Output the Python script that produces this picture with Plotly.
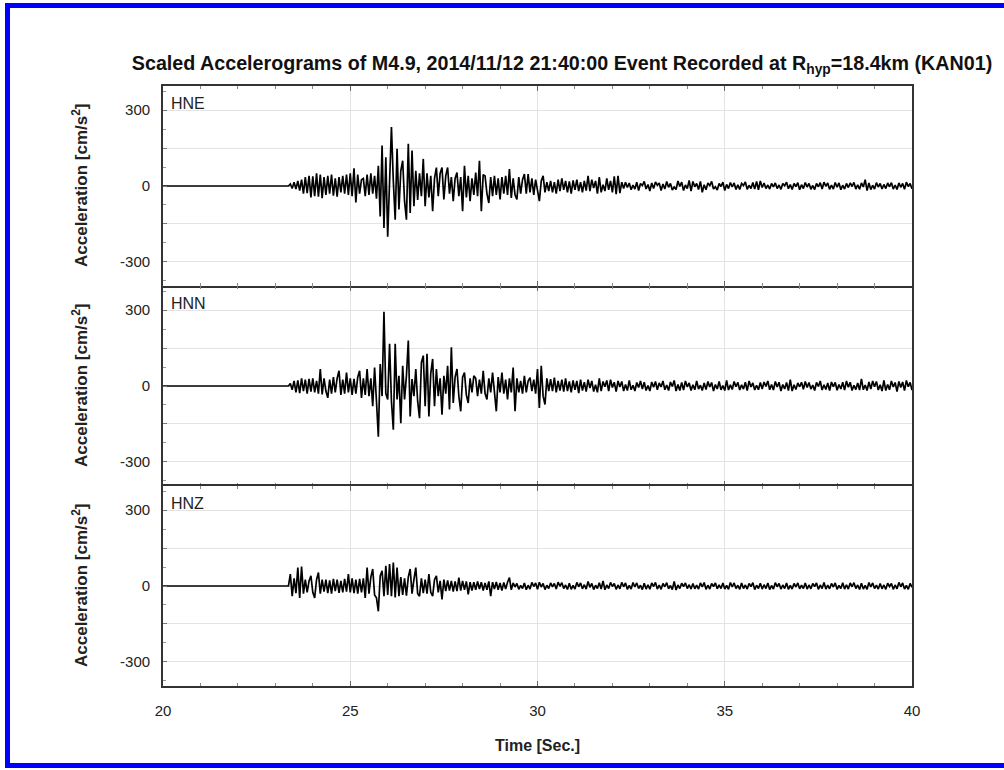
import numpy as np
import plotly.graph_objects as go
from plotly.subplots import make_subplots

# ---------------- data ----------------
t_start = 23.35          # onset time of the record (s)
dt = 0.05
x_start = 20.0

hne = [
    0, 8, -10, 15, -12, 20, -18, 25, -30, 35, -28, 40, -45, 38, -40, 50, -42, 45, -48, 35,
    -35, 40, -30, 45, -38, 30, -42, 35, -25, 40, -30, 45, -35, 50, -40, 70, -65, 45, -30, 25,
    30, -40, 45, -35, 50, -30, 40, -50, 80, -120, 160, -166, 113, -200, 50, 233, 20, -133, 147, -93,
    60, 100, -60, -133, 167, -107, 140, -80, 60, -55, 50, -40, 107, -80, 50, -45, 40, -100, 30, 73,
    -40, 50, 73, -53, 40, 73, -30, 35, -60, 30, 53, -40, 35, -100, 80, -45, 40, -60, 30, -35,
    53, -40, 100, -100, 45, 40, -30, -67, 35, -40, 40, -35, 30, -53, 35, -30, 40, -35, 67, -47,
    30, -35, -53, 35, -30, 25, 47, -30, 47, -25, 30, -35, 25, -20, -60, 20, 40, -25, 15, -20,
    20, -25, 15, -30, 25, -20, 30, -15, 20, -25, 18, -30, 22, -15, 25, -20, 15, -25, 20, -18,
    40, -20, 25, -8, 20, -30, 35, -25, 5, -20, 30, -15, 20, -25, 38, -32, 40, -28, 15, -10,
    15, -6, 12, -15, 4, -12, 15, -18, 10, 2, 18, -12, 6, -20, 12, -10, 16, 3, 12, -18,
    8, -12, 18, -5, 10, -16, -4, -14, 20, -2, 15, -18, 4, -10, 22, -20, 18, -3, 10, -14,
    18, -25, 5, -15, 12, 2, 18, -12, -3, -16, 10, -2, 15, -18, 6, -10, 14, -4, 12, -14,
    5, -14, 10, 2, 16, -13, 3, -10, 14, -12, 18, -15, 20, -6, 12, -10, 4, -12, 10, -3,
    12, -10, 4, -13, 10, 1, 15, -11, 6, -14, 10, -2, 13, -15, 5, -10, 14, -4, 10, -13,
    2, -14, 10, -3, 13, -12, 15, -1, 12, -13, 4, -12, 14, -5, 12, -15, 3, -12, 10, -6,
    12, -2, 14, -12, 5, -13, 12, -4, 25, -18, 12, -14, 3, -12, 13, -4, 10, -12, 6, -10,
    12, -3, 13, -12, 4, -14, 12, -5, 10, -13, 15, -2, 10, -11, 5, -10, 13, -12, 2, -11, 8,
]

hnn = [
    0, 10, -15, 20, -25, 22, -28, 30, -20, 25, -30, 28, -22, 30, -25, 20, -30, 67, -33, 30,
    -20, -47, 25, -30, 35, -25, 30, 60, -35, 25, -30, 53, -25, 30, -35, 28, -30, 35, 60, -47,
    30, -35, 67, -40, 30, -80, 73, -60, -200, 87, -40, 293, -30, -53, 167, -60, -173, 167, -53, 40,
    -147, 80, -53, 40, 180, -120, 27, -40, 67, -60, -127, 93, 120, -80, 127, -120, 50, 107, -80, 67,
    -40, 30, -113, 40, -30, 80, -93, 153, -67, 35, 67, -40, -100, 35, 53, -35, -67, 30, -25, 40,
    30, -40, 25, -30, 60, -30, -53, 30, -25, 53, -30, -100, 35, -25, 53, -30, 25, -53, 30, -25,
    73, -100, 30, -25, 20, -30, 40, -25, 20, 33, -20, 25, -30, 67, -87, 80, -40, -73, 30, -20,
    27, -20, 33, -25, 20, -18, 25, -22, 30, -20, 18, -25, 22, -15, 20, -28, 25, -18, 15, -22,
    25, -8, 20, -22, 5, -25, 30, -20, 18, -3, 22, -20, 25, -6, 15, -22, 20, -4, 18, -20,
    6, -18, 22, -15, 3, -20, 14, -6, 20, -12, 15, -18, 2, -20, 16, -5, 18, -15, 12, -4,
    20, -15, 4, -18, 16, -2, 22, -20, 6, -18, 14, -16, 20, -4, 12, -18, 5, -15, 20, -12,
    3, -18, 12, -14, 18, -4, 14, -20, 6, -12, 18, -15, 2, -18, 22, -16, 5, -14, 18, -3,
    14, -16, 5, -12, 15, -18, 20, -4, 12, -16, 3, -15, 14, -12, 16, -2, 20, -15, 6, -16,
    18, -4, 15, -20, 6, -12, 14, -18, 25, -20, 5, -14, 12, -3, 15, -13, 18, -6, 14, -12,
    4, -18, 14, -2, 20, -16, 5, -14, 12, -18, 16, -3, 14, -17, 6, -12, 15, -16, 20, -5,
    15, -18, 3, -14, 12, -16, 28, -15, 4, -18, 16, -12, 20, -3, 18, -16, 5, -20, 22, -18,
    6, -15, 20, -4, 14, -22, 18, -6, 16, -18, 22, -3, 14, -16, 5, -20, 16, -14, 20, -6, 15,
]

hnz = [
    0, 47, -40, 30, -28, 73, -47, 77, -30, 25, -25, 20, 40, -25, -47, 25, 53, -30, 25, -22,
    25, -28, 22, -30, 28, -20, 25, -27, 20, -25, 28, -22, 47, -25, 30, -28, 25, -30, 28, -25,
    30, -47, 73, -30, 35, 67, -35, -47, -100, 40, 60, -40, 80, -35, 87, -40, 93, -45, 73, -40,
    35, -35, 30, -38, 35, 67, -30, 25, 73, -30, -40, 30, -28, 25, -30, 47, -25, -40, 25, 40,
    -25, 20, -53, 25, -20, 22, -18, 20, -22, 18, -20, 33, -18, 20, -15, 18, -33, 15, -18, 15,
    -15, 18, -12, 15, -18, 12, -15, 18, -40, 15, -12, 16, -15, 12, -18, 14, -12, 15, 33, -15,
    12, -4, 10, -13, 2, -10, 12, -15, 3, -12, 14, -2, 12, -13, 15, -4, 10, -14, 3, -10,
    12, -3, 10, -12, 15, -1, 13, -10, 4, -14, 11, -13, 2, -12, 14, -3, 12, -11, 5, -12,
    18, -5, 10, -14, 3, -10, 13, -12, 20, -15, 4, -10, 14, -2, 10, -13, 4, -11, 14, -3,
    12, -13, 2, -12, 14, -4, 12, -10, 3, -14, 11, -12, 5, -13, 12, -2, 14, -12, 4, -13,
    10, -3, 13, -11, 2, -14, 18, -16, 4, -10, 11, -2, 12, -10, 5, -12, 10, -11, 3, -12,
    12, -4, 14, -13, 3, -12, 10, -2, 12, -11, 4, -10, 12, -12, 2, -13, 14, -4, 12, -10,
    3, -13, 12, -10, 4, -12, 10, -2, 13, -14, 3, -10, 11, -12, 5, -10, 12, -14, 2, -12,
    13, -3, 10, -12, 4, -10, 12, -13, 2, -12, 10, -4, 12, -11, 3, -10, 12, -12, 4, -11,
    10, -2, 12, -13, 4, -10, 14, -12, 3, -11, 10, -4, 12, -13, 2, -10, 13, -12, 5, -12,
    12, -3, 13, -10, 4, -14, 11, -12, 2, -13, 14, -4, 12, -10, 3, -12, 10, -11, 4, -13,
    11, -2, 10, -13, 4, -11, 14, -3, 12, -12, 2, -13, 10, -4, 13, -11, 3, -10, 14, -4, 10,
]

components = ["HNE", "HNN", "HNZ"]
series = [hne, hnn, hnz]
x_ticks = [20, 25, 30, 35, 40]
y_tickvals = [-300, -150, 0, 150, 300]
y_ticktext = ["-300", "", "0", "", "300"]

title_text = ("<b>Scaled Accelerograms of M4.9, 2014/11/12 21:40:00 Event Recorded at "
              "R<sub>hyp</sub>=18.4km (KAN01)</b>")

# ---------------- figure ----------------
W, H = 1004, 770
L, R, T, B = 163, 92, 86, 84
pw, ph = W - L - R, H - T - B

fig = make_subplots(rows=3, cols=1, shared_xaxes=True, vertical_spacing=0)

font_family = "Liberation Sans, Arial, sans-serif"
frame_col = "#333333"
grid_col = "#e3e3e3"

for i, vals in enumerate(series):
    v = np.array(vals, dtype=float)
    t = t_start + dt * np.arange(len(v))
    tt = np.concatenate([[x_start], t])
    vv = np.concatenate([[0.0], v])
    fig.add_trace(go.Scatter(x=tt, y=vv, mode="lines",
                             line=dict(color="black", width=1.7),
                             showlegend=False, hoverinfo="skip"),
                  row=i + 1, col=1)

for i in range(3):
    r = i + 1
    fig.update_xaxes(row=r, col=1, range=[20, 40], tickvals=x_ticks,
                     showgrid=True, gridcolor=grid_col, gridwidth=1,
                     showline=(r != 2), linecolor=frame_col, linewidth=1.8, mirror="ticks",
                     ticks="inside", ticklen=5, tickcolor="#666666",
                     minor=dict(ticks="inside", ticklen=3, dtick=1, tick0=20,
                                tickcolor="#888888", showgrid=False),
                     zeroline=False,
                     showticklabels=(r == 3),
                     tickfont=dict(family=font_family, size=15, color="#222222"),
                     ticklabelstandoff=10)
    fig.update_yaxes(row=r, col=1, range=[-395, 395], tickvals=y_tickvals, ticktext=y_ticktext,
                     showgrid=True, gridcolor=grid_col, gridwidth=1,
                     showline=True, linecolor=frame_col, linewidth=1.8, mirror=True,
                     ticks="inside", ticklen=4, tickcolor="#777777",
                     minor=dict(ticks="inside", ticklen=3, dtick=75, tick0=0,
                                tickcolor="#999999", showgrid=False),
                     zeroline=False,
                     tickfont=dict(family=font_family, size=15, color="#222222"),
                     ticklabelstandoff=8)

annotations = []
for i, name in enumerate(components):
    yref = "y domain" if i == 0 else f"y{i + 1} domain"
    annotations.append(dict(text=name, xref="paper", yref=yref, x=0.008, y=0.915,
                            xanchor="left", yanchor="middle", showarrow=False,
                            font=dict(family=font_family, size=16, color="#222222")))
    # y-axis title for each panel
    annotations.append(dict(text="<b>Acceleration [cm/s<sup>2</sup>]</b>", xref="paper",
                            yref=yref, x=(80 - L) / pw, y=0.5, textangle=-90,
                            xanchor="center", yanchor="middle", showarrow=False,
                            font=dict(family=font_family, size=17, color="#222222")))

annotations.append(dict(text="<b>Time [Sec.]</b>", xref="paper", yref="paper",
                        x=0.5, y=(686 - 745) / ph, xanchor="center", yanchor="middle",
                        showarrow=False,
                        font=dict(family=font_family, size=16, color="#222222")))

# blue frame around the picture
shapes = [dict(type="rect", xref="paper", yref="paper",
               x0=(7.5 - L) / pw, x1=(1012 - L) / pw,
               y0=(H - B - 765.5) / ph, y1=(H - B - 5.5) / ph,
               line=dict(color="#0000ff", width=5), fillcolor="rgba(0,0,0,0)")]

fig.update_layout(
    width=W, height=H,
    margin=dict(l=L, r=R, t=T, b=B),
    paper_bgcolor="white", plot_bgcolor="white",
    title=dict(text=title_text, x=562 / W, xanchor="center",
               y=1 - 63 / H, yanchor="middle",
               font=dict(family=font_family, size=19.7, color="#111111")),
    annotations=annotations,
    shapes=shapes,
)

fig.write_html("out.html")
